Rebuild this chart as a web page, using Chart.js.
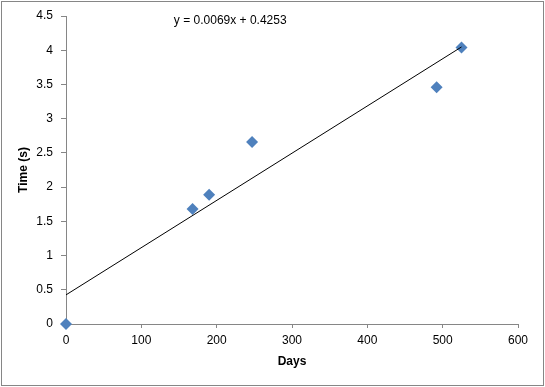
<!DOCTYPE html>
<html>
<head>
<meta charset="utf-8">
<title>Time vs Days</title>
<script src="https://cdn.jsdelivr.net/npm/chart.js@4"></script>
<style>
  html, body { margin: 0; padding: 0; background: #ffffff; }
  #wrap { width: 545px; height: 387px; }
</style>
</head>
<body>
<div id="wrap"><canvas id="chart" width="545" height="387"></canvas></div>
<script>
//measured points
const days = [0, 168, 190, 247, 492, 525];
const times = [0, 1.68, 1.89, 2.66, 3.46, 4.04];
//linear trendline (from the label)
const slope = 0.0069;
const intercept = 0.4253;
const trendRange = [0, 525];
//axis ticks
const xTicks = [0, 100, 200, 300, 400, 500, 600];
const yTicks = [0, 0.5, 1, 1.5, 2, 2.5, 3, 3.5, 4, 4.5];

const axisGray = "#868686";
Chart.defaults.font.family = "'Liberation Sans', Arial, sans-serif";
Chart.defaults.font.size = 12;
Chart.defaults.color = "#000000";

const points = days.map((d, i) => ({ x: d, y: times[i] }));
const trend = trendRange.map((d) => ({ x: d, y: slope * d + intercept }));

//outer frame + equation text
const extras = {
  id: "extras",
  afterDraw(chart) {
    const ctx = chart.ctx;
    ctx.save();
    ctx.strokeStyle = axisGray;
    ctx.lineWidth = 1;
    ctx.strokeRect(1.5, 1.5, chart.width - 3, chart.height - 3);
    ctx.fillStyle = "#000000";
    ctx.font = "12px 'Liberation Sans', Arial, sans-serif";
    ctx.textAlign = "center";
    ctx.textBaseline = "middle";
    const x = chart.scales.x.getPixelForValue(218);
    const y = chart.scales.y.getPixelForValue(4.43);
    ctx.fillText("y = " + slope + "x + " + intercept, x, y);
    ctx.restore();
  },
};

new Chart(document.getElementById("chart"), {
  type: "scatter",
  plugins: [extras],
  data: {
    datasets: [
      {
        //trendline, drawn on top
        data: trend,
        showLine: true,
        borderColor: "#000000",
        borderWidth: 1,
        pointRadius: 0,
      },
      {
        data: points,
        clip: false,
        pointStyle: "rectRot",
        pointRadius: 6,
        pointBackgroundColor: "#4f81bd",
        pointBorderColor: "#4f81bd",
        pointBorderWidth: 0,
      },
    ],
  },
  options: {
    responsive: false,
    animation: false,
    layout: { padding: { left: 0, top: 16, right: 27, bottom: 0 } },
    plugins: { legend: { display: false }, tooltip: { enabled: false } },
    scales: {
      x: {
        type: "linear",
        min: 0,
        max: 600,
        afterBuildTicks: (s) => { s.ticks = xTicks.map((v) => ({ value: v })); },
        afterFit: (s) => { s.height = 63; },
        grid: { drawOnChartArea: false, tickLength: 4, color: axisGray },
        border: { color: axisGray },
        ticks: { padding: 5, callback: (v) => String(v) },
        title: {
          display: true,
          text: "Days",
          font: { weight: "bold", size: 12 },
          padding: { top: 0, bottom: 18 },
        },
      },
      y: {
        type: "linear",
        min: 0,
        max: 4.5,
        afterBuildTicks: (s) => { s.ticks = yTicks.map((v) => ({ value: v })); },
        afterFit: (s) => { s.width = 66; },
        grid: { drawOnChartArea: false, tickLength: 5, color: axisGray },
        border: { color: axisGray },
        ticks: { padding: 8, callback: (v) => String(v) },
        title: {
          display: true,
          text: "Time (s)",
          font: { weight: "bold", size: 12 },
          padding: { top: 16, bottom: 0 },
        },
      },
    },
  },
});
</script>
</body>
</html>
